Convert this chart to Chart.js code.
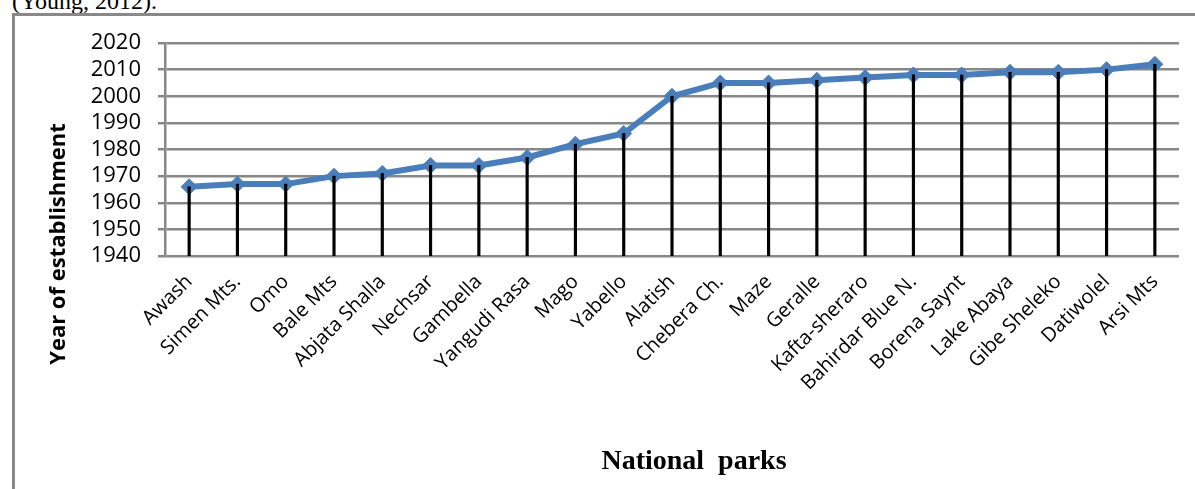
<!DOCTYPE html>
<html>
<head>
<meta charset="utf-8">
<script src="https://cdn.jsdelivr.net/npm/chart.js@4.4.1/dist/chart.umd.min.js"></script>
<style>
  html, body { margin: 0; padding: 0; width: 1195px; height: 489px; overflow: hidden; background: #fff; }
  #note { position: absolute; left: 12px; top: -11px; font: 24px "Liberation Serif"; line-height: 24px; white-space: nowrap; color: #000; }
  #frame { position: absolute; left: 12px; top: 13px; width: 1300px; height: 600px; border: 3px solid #898989; }
  #wrap { position: absolute; left: 0; top: 0; width: 1195px; height: 489px; }
</style>
</head>
<body>
<div id="note">(Young, 2012).</div>
<div id="frame"></div>
<div id="wrap"><canvas id="parksChart"></canvas></div>
<script>
/* Data */
const parks = ["Awash", "Simen Mts.", "Omo", "Bale Mts", "Abjata Shalla", "Nechsar", "Gambella",
               "Yangudi Rasa", "Mago", "Yabello", "Alatish", "Chebera Ch.", "Maze", "Geralle",
               "Kafta-sheraro", "Bahirdar Blue N.", "Borena Saynt", "Lake Abaya", "Gibe Sheleko",
               "Datiwolel", "Arsi Mts"];
const years = [1966, 1967, 1967, 1970, 1971, 1974, 1974, 1977, 1982, 1986, 2000,
               2005, 2005, 2006, 2007, 2008, 2008, 2009, 2009, 2010, 2012];
const yMin = 1940;
const yMax = 2020;

const gridGray = '#878787';
const lineBlue = '#4a7ebb';

/* Axis titles drawn where the original has them */
const axisTitles = {
    id: 'axisTitles',
    afterDraw(chart) {
        const ctx = chart.ctx;
        ctx.save();
        ctx.fillStyle = '#000';
        ctx.textAlign = 'center';
        ctx.textBaseline = 'middle';
        ctx.font = 'bold 22px "Open Sans"';
        ctx.translate(59, 244);
        ctx.rotate(-Math.PI / 2);
        ctx.fillText('Year of establishment', 0, 0);
        ctx.restore();

        ctx.save();
        ctx.fillStyle = '#000';
        ctx.textAlign = 'center';
        ctx.textBaseline = 'alphabetic';
        ctx.font = 'bold 28px "Liberation Serif"';
        ctx.fillText('National  parks', 694, 469);
        ctx.restore();
    }
};

/* Create chart */
const parksChart = new Chart('parksChart', {
    type: 'bar',
    data: {
        labels: parks,
        datasets: [
            {
                // drop lines from each point down to the axis
                type: 'bar',
                label: 'drop',
                data: years.map(v => [yMin, v]),
                backgroundColor: '#000',
                barThickness: 2.5,
                order: 0
            },
            {
                type: 'line',
                label: 'Year of establishment',
                data: years,
                borderColor: lineBlue,
                borderWidth: 6,
                backgroundColor: lineBlue,
                pointStyle: 'rectRot',
                pointRadius: 8,
                pointBorderWidth: 1,
                pointBackgroundColor: lineBlue,
                pointBorderColor: lineBlue,
                tension: 0,
                order: 1
            }
        ]
    },
    plugins: [axisTitles],
    options: {
        responsive: true,
        maintainAspectRatio: false,
        animation: false,
        layout: {
            padding: { left: 0, top: 43, right: 16, bottom: 0 }
        },
        scales: {
            x: {
                offset: true,
                grid: { display: false },
                border: { display: false },
                ticks: {
                    autoSkip: false,
                    maxRotation: 45,
                    minRotation: 45,
                    padding: 6,
                    color: '#000',
                    font: { family: 'Open Sans', size: 20 }
                },
                afterFit(scale) { scale.height = 233; }
            },
            y: {
                min: yMin,
                max: yMax,
                ticks: {
                    stepSize: 10,
                    autoSkip: false,
                    padding: 17,
                    color: '#000',
                    font: { family: 'Open Sans', size: 22 },
                    callback: v => String(v)
                },
                grid: {
                    color: gridGray,
                    lineWidth: 2.5,
                    tickLength: 7,
                    tickColor: gridGray
                },
                border: { color: gridGray, width: 2.5 },
                afterFit(scale) { scale.width = 165; }
            }
        },
        plugins: {
            legend: { display: false },
            tooltip: { enabled: false }
        }
    }
});
</script>
</body>
</html>
